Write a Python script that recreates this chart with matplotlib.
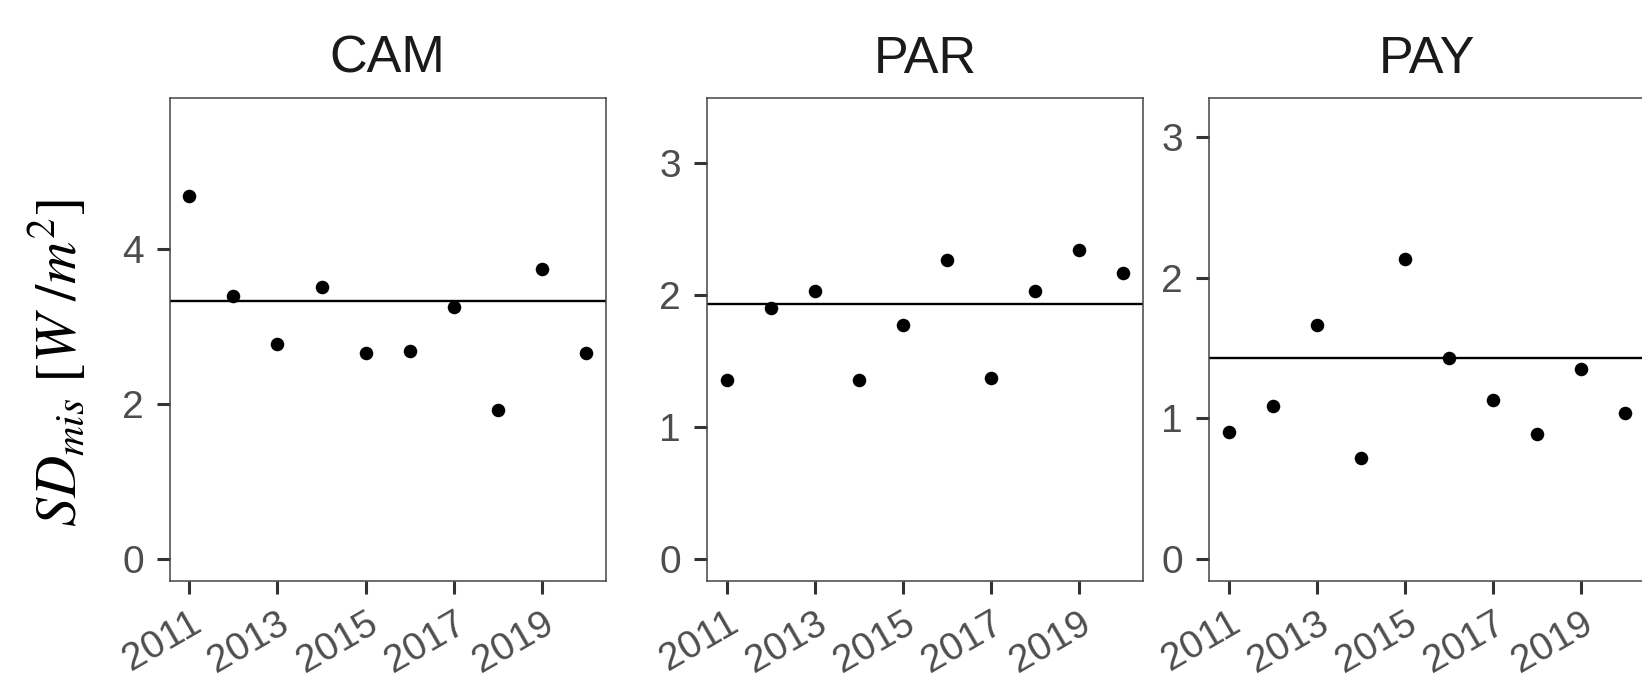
import matplotlib
matplotlib.use("Agg")
import matplotlib.pyplot as plt

plt.rcParams['font.family'] = ['Liberation Sans', 'DejaVu Sans']
plt.rcParams['mathtext.fontset'] = 'stix'

years = [2011, 2012, 2013, 2014, 2015, 2016, 2017, 2018, 2019, 2020]
stations = ["CAM", "PAR", "PAY"]
cam = [4.68, 3.40, 2.78, 3.51, 2.66, 2.68, 3.25, 1.93, 3.74, 2.66]
par = [1.36, 1.90, 2.03, 1.36, 1.775, 2.27, 1.37, 2.03, 2.34, 2.17]
pay = [0.90, 1.09, 1.66, 0.715, 2.13, 1.432, 1.13, 0.886, 1.352, 1.035]
means = [3.33, 1.935, 1.43]
xticks = [2011, 2013, 2015, 2017, 2019]
yticks = [[0, 2, 4], [0, 1, 2, 3], [0, 1, 2, 3]]
ylims = [(-0.28, 5.95), (-0.166, 3.497), (-0.155, 3.277)]
series = [cam, par, pay]

W, H = 1642, 682
fig = plt.figure(figsize=(W / 100, H / 100), dpi=100)
lefts = [169.5, 706.7, 1208.7]
pw = 436.3
top_px, bot_px = 97.7, 581.0

for i, st in enumerate(stations):
    ax = fig.add_axes([lefts[i] / W, (H - bot_px) / H, pw / W, (bot_px - top_px) / H])
    ax.scatter(years, series[i], s=95, color='black', zorder=3, linewidths=0)
    ax.axhline(means[i], color='black', lw=1.7, zorder=2)
    ax.set_xlim(2010.55, 2020.45)
    ax.set_ylim(*ylims[i])
    ax.set_xticks(xticks)
    ax.set_xticklabels([str(x) for x in xticks])
    ax.set_yticks(yticks[i])
    ax.set_yticklabels([str(y) for y in yticks[i]])
    for sp in ax.spines.values():
        sp.set_color('#444444')
        sp.set_linewidth(1.1)
    ax.tick_params(axis='both', length=9.5, width=2.2, color='#333333',
                   labelsize=28, labelcolor='#4d4d4d')
    ax.tick_params(axis='y', pad=9.0)
    ax.tick_params(axis='x', pad=8)
    for lab in ax.get_xticklabels():
        lab.set_rotation(30)
        lab.set_ha('right')
        lab.set_va('top')
        lab.set_rotation_mode('anchor')
    ax.set_title(st, fontsize=37.5, color='#1a1a1a', pad=18)

fig.text(58 / W, (H - 363) / H, r'$SD_{mis}\ [W\ /m^2]$', rotation=90,
         ha='center', va='center', fontsize=42)

fig.savefig('out.png', dpi=100, facecolor='white')
